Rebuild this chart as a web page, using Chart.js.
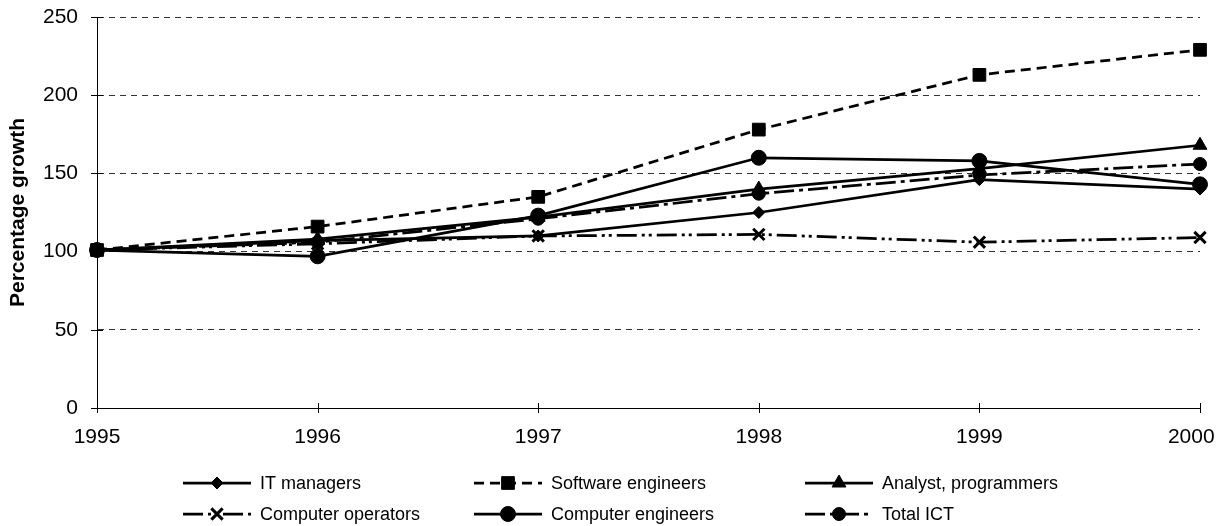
<!DOCTYPE html>
<html>
<head>
<meta charset="utf-8">
<script src="https://cdn.jsdelivr.net/npm/chart.js@4.4.1/dist/chart.umd.min.js"></script>
<style>
  html, body { margin: 0; padding: 0; background: #fff; }
  #wrap { width: 1220px; height: 526px; position: relative; }
</style>
</head>
<body>
<div id="wrap"><canvas id="c" width="1220" height="526"></canvas></div>
<script>
const years = ['1995', '1996', '1997', '1998', '1999', '2000'];
const itManagers        = [101, 107, 110, 125, 146, 140];
const softwareEngineers = [101, 116, 135, 178, 213, 229];
const analystProgrammers= [101, 108, 122, 140, 153, 168];
const computerOperators = [101, 105, 110, 111, 106, 109];
const computerEngineers = [101,  97, 123, 160, 158, 143];
const totalICT          = [101, 106, 121, 137, 149, 156];
const seriesNames = ['IT managers', 'Software engineers', 'Analyst, programmers',
                     'Computer operators', 'Computer engineers', 'Total ICT'];
const yTicks = [0, 50, 100, 150, 200, 250];

const FONT = '"Liberation Sans", Arial, sans-serif';

function ds(label, data, dash, style, radius) {
  return {
    label, data,
    borderColor: '#000', backgroundColor: '#000',
    borderWidth: 2.75, borderDash: dash,
    pointStyle: style, pointRadius: radius, pointHoverRadius: radius,
    pointBackgroundColor: '#000', pointBorderColor: '#000',
    pointBorderWidth: style === 'crossRot' ? 3 : 1,
    tension: 0, fill: false
  };
}

const datasets = [
  ds(seriesNames[0], itManagers, [], 'rectRot', 6),
  ds(seriesNames[1], softwareEngineers, [10, 6], 'rect', 9),
  ds(seriesNames[2], analystProgrammers, [], 'triangle', 8),
  ds(seriesNames[3], computerOperators, [20, 5, 3, 4, 3, 5], 'crossRot', 8),
  ds(seriesNames[4], computerEngineers, [], 'circle', 7.5),
  ds(seriesNames[5], totalICT, [20, 5, 4, 5], 'circle', 6.5)
];

// tick marks that cross the axes
const crossTicks = {
  id: 'crossTicks',
  beforeDatasetsDraw(chart) {
    const ctx = chart.ctx;
    const xs = chart.scales.x, ys = chart.scales.y;
    const ax = chart.chartArea.left, ay = chart.chartArea.bottom;
    ctx.save();
    ctx.strokeStyle = '#000';
    ctx.lineWidth = 1;
    ctx.beginPath();
    xs.ticks.forEach((t, i) => {
      const px = Math.round(xs.getPixelForTick(i)) + 0.5;
      ctx.moveTo(px, ay - 5); ctx.lineTo(px, ay + 5);
    });
    ys.ticks.forEach((t) => {
      const py = Math.round(ys.getPixelForValue(t.value)) + 0.5;
      ctx.moveTo(ax - 6, py); ctx.lineTo(ax + 6, py);
    });
    ctx.stroke();
    ctx.restore();
  }
};

const legendPlugin = {
  id: 'customLegend',
  afterDraw(chart) {
    const ctx = chart.ctx;
    const cols = [260, 551, 882];
    const rows = [483, 514];
    const lineLen = 68;
    chart.data.datasets.forEach((d, i) => {
      const tx = cols[i % 3];
      const y = rows[Math.floor(i / 3)];
      const x2 = tx - 9, x1 = x2 - lineLen;
      ctx.save();
      ctx.strokeStyle = '#000';
      ctx.lineWidth = d.borderWidth;
      ctx.setLineDash(d.borderDash);
      ctx.beginPath();
      ctx.moveTo(x1, y);
      ctx.lineTo(x2, y);
      ctx.stroke();
      ctx.setLineDash([]);
      ctx.fillStyle = '#000';
      ctx.lineWidth = d.pointBorderWidth;
      Chart.helpers.drawPoint(ctx, {pointStyle: d.pointStyle, radius: d.pointRadius, rotation: 0, borderWidth: d.pointBorderWidth}, (x1 + x2) / 2, y);
      ctx.fillStyle = '#000';
      ctx.font = '18px ' + FONT;
      ctx.textBaseline = 'middle';
      ctx.textAlign = 'left';
      ctx.fillText(d.label, tx, y + 1);
      ctx.restore();
    });
  }
};

new Chart(document.getElementById('c'), {
  type: 'line',
  data: { labels: years, datasets },
  options: {
    responsive: false,
    animation: false,
    events: [],
    layout: { padding: { top: 17, right: 20, bottom: 0, left: 0 } },
    plugins: { legend: { display: false }, tooltip: { enabled: false } },
    scales: {
      x: {
        type: 'category',
        offset: false,
        grid: { display: false, drawTicks: false },
        border: { display: true, color: '#000', width: 1 },
        ticks: {
          color: '#000', font: { family: FONT, size: 21 }, padding: 17, maxRotation: 0,
          // last label nudged inward so it stays inside the picture
          callback: (v, i) => i === years.length - 1 ? years[i] + '   ' : years[i]
        },
        afterFit(s) { s.height = 118; s.paddingLeft = 0; s.paddingRight = 0; }
      },
      y: {
        min: 0, max: 250,
        afterBuildTicks(scale) { scale.ticks = yTicks.map(v => ({ value: v })); },
        grid: {
          drawTicks: false,
          color: (c) => c.tick && c.tick.value === 0 ? 'rgba(0,0,0,0)' : '#333',
          lineWidth: 1
        },
        border: { display: true, color: '#000', width: 1, dash: [6, 5] },
        ticks: { color: '#000', font: { family: FONT, size: 21 }, padding: 19 },
        title: { display: true, text: 'Percentage growth', color: '#000', font: { family: FONT, size: 21, weight: 'bold' }, padding: { top: 6, bottom: 0 } },
        afterFit(s) { s.width = 97; s.paddingTop = 0; s.paddingBottom = 0; }
      }
    }
  },
  plugins: [crossTicks, legendPlugin]
});
</script>
</body>
</html>
